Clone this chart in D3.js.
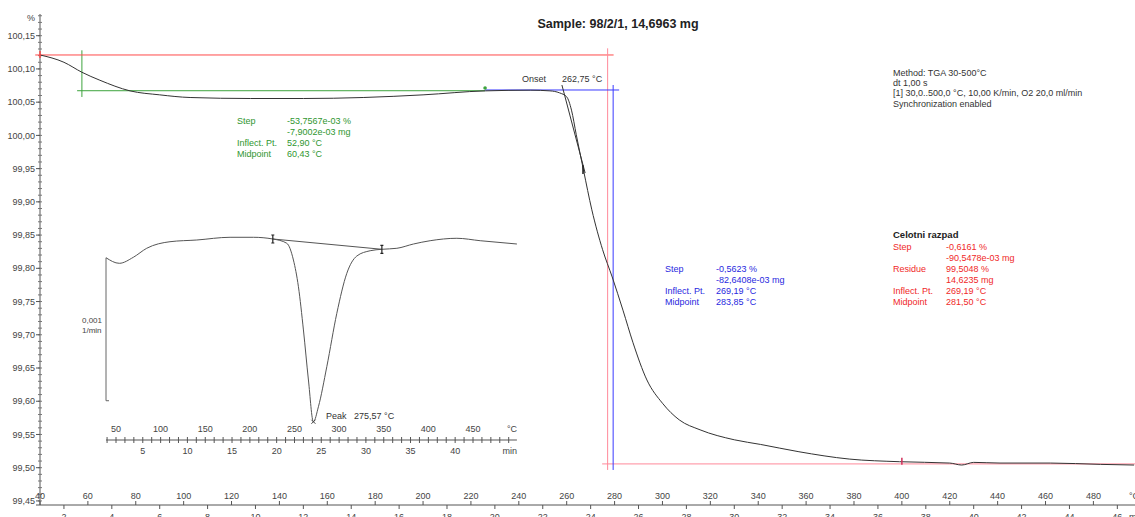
<!DOCTYPE html>
<html lang="en">
<head>
<meta charset="UTF-8">
<title>TGA 98/2/1</title>
<script src="https://cdn.jsdelivr.net/npm/d3@7/dist/d3.min.js"></script>
<style>
    body { margin: 0; background: #fff; }
    svg { display: block; font-family: "Liberation Sans", Arial, sans-serif; }
    .lbl { font-size: 9px; fill: #444; }
    .note { font-size: 9px; }
</style>
</head>
<body>
<script>
    // glavna TGA krivulja: temperatura (°C) / masa (%)
    var tgaTemp = [40, 50, 57.5, 65, 77.6, 90, 102.7, 128, 150, 175, 200, 226, 245, 253, 257, 260, 262, 264, 267, 270.5, 275, 279, 283.5, 287.7, 293.5, 300, 307, 315.7, 330, 341, 357, 378, 399, 420, 425, 430, 441, 462, 483, 497];
    var tgaMass = [100.121, 100.110, 100.095, 100.083, 100.067, 100.061, 100.057, 100.0555, 100.0555, 100.057, 100.061, 100.067, 100.068, 100.067, 100.064, 100.058, 100.038, 100.001, 99.948, 99.888, 99.828, 99.787, 99.737, 99.688, 99.632, 99.597, 99.572, 99.557, 99.542, 99.535, 99.524, 99.513, 99.509, 99.507, 99.504, 99.508, 99.507, 99.507, 99.505, 99.504];

    // DTG (vstavljen graf): temperatura (°C) / hitrost (x 0,001 1/min)
    var dtgTemp = [38.8, 53.7, 69.4, 84.4, 110.5, 140.5, 177.8, 203.9, 225.7, 241.4, 248.8, 254.4, 260.0, 265.6, 271.2, 276.8, 286.2, 297.4, 308.6, 319.8, 334.8, 347.9, 364.7, 383.3, 402.0, 431.9, 458.1, 499.2];
    var dtgRate = [-0.124, -0.163, -0.121, -0.058, -0.012, 0, 0.019, 0.019, 0.007, -0.023, -0.140, -0.327, -0.629, -0.979, -1.271, -1.166, -0.886, -0.513, -0.233, -0.112, -0.075, -0.065, -0.058, -0.028, -0.005, 0.012, -0.005, -0.028];

    var yMajor = [99.45, 99.50, 99.55, 99.60, 99.65, 99.70, 99.75, 99.80, 99.85, 99.90, 99.95, 100.00, 100.05, 100.10, 100.15];
    var xLabelsC = [40, 60, 80, 100, 120, 140, 160, 180, 200, 220, 240, 260, 280, 300, 320, 340, 360, 380, 400, 420, 440, 460, 480];
    var xLabelsMin = [2, 4, 6, 8, 10, 12, 14, 16, 18, 20, 22, 24, 26, 28, 30, 32, 34, 36, 38, 40, 42, 44, 46];
    var insetLabelsC = [50, 100, 150, 200, 250, 300, 350, 400, 450];
    var insetLabelsMin = [5, 10, 15, 20, 25, 30, 35, 40];

    // vrednosti za vrednotenje (temperatura, %)
    var greenStep = { level: 100.0672, from: 55.5, to: 225.9, vx: 57.5, vTop: 100.128, vBot: 100.0578 };
    var blueStep = { level: 100.0683, from: 225.9, to: 281.9, vx: 279.4, vTop: 100.0758, vBot: 99.4966 };
    var redStep = { top: 100.121, topFrom: 38, topTo: 279.6, vx: 277.1, vTop: 100.131, vBot: 99.4966, bottom: 99.5057, botFrom: 274.8, botTo: 500 };
    var onsetTangent = [[258, 100.0758], [267.7, 99.9434]];
    var dtgBase = [[225.7, 0.007], [347.9, -0.065]];
    var dtgPeak = [271.2, -1.271];

    var greenText = [["Step", "-53,7567e-03 %"], ["", "-7,9002e-03 mg"], ["Inflect. Pt.", "52,90 °C"], ["Midpoint", "60,43 °C"]];
    var blueText = [["Step", "-0,5623 %"], ["", "-82,6408e-03 mg"], ["Inflect. Pt.", "269,19 °C"], ["Midpoint", "283,85 °C"]];
    var redText = [["Step", "-0,6161 %"], ["", "-90,5478e-03 mg"], ["Residue", "99,5048 %"], ["", "14,6235 mg"], ["Inflect. Pt.", "269,19 °C"], ["Midpoint", "281,50 °C"]];
    var methodText = ["Method: TGA 30-500°C", "dt 1,00 s", "[1] 30,0..500,0 °C, 10,00 K/min,  O2 20,0 ml/min", "Synchronization enabled"];

    var W = 1135, H = 517;
    var RED = "#ff4a4a", PINK = "#ff8a9a", BLUE = "#3a3aff", GREEN = "#3da33d";

    var svg = d3.select("body").append("svg")
        .attr("width", W).attr("height", H);
    svg.append("rect").attr("width", W).attr("height", H).attr("fill", "#fff");

    var x = d3.scaleLinear().domain([40, 480]).range([40, 1093.4]);
    var y = d3.scaleLinear().domain([99.50, 100.15]).range([467.7, 35.7]);
    var comma = function(f) { return function(v) { return d3.format(f)(v).replace(".", ","); }; };

    // y os
    var gy = svg.append("g");
    gy.append("line").attr("x1", 40).attr("x2", 40).attr("y1", 14).attr("y2", 505).attr("stroke", "#555");
    gy.selectAll(".minor").data(d3.range(0, 74).map(function(i) { return 99.45 + i * 0.01; }))
        .enter().append("line")
        .attr("x1", 38).attr("x2", 42)
        .attr("y1", function(d) { return y(d); }).attr("y2", function(d) { return y(d); })
        .attr("stroke", "#777");
    gy.selectAll(".major").data(yMajor).enter().append("line")
        .attr("x1", 36).attr("x2", 40)
        .attr("y1", function(d) { return y(d); }).attr("y2", function(d) { return y(d); })
        .attr("stroke", "#555");
    gy.selectAll("text").data(yMajor).enter().append("text")
        .attr("class", "lbl")
        .attr("x", 35).attr("y", function(d) { return y(d); }).attr("dy", "0.35em")
        .attr("text-anchor", "end")
        .text(comma(".2f"));
    svg.append("text").attr("class", "lbl").attr("x", 35).attr("y", 21).attr("text-anchor", "end").text("%");

    // x os (°C zgoraj, min spodaj)
    var AXY = 505;
    var gx = svg.append("g");
    gx.append("line").attr("x1", 36).attr("x2", W).attr("y1", AXY).attr("y2", AXY).attr("stroke", "#555");
    gx.selectAll("line.t").data(d3.range(40, 500, 10)).enter().append("line")
        .attr("class", "t")
        .attr("x1", function(d) { return x(d); }).attr("x2", function(d) { return x(d); })
        .attr("y1", function(d) { return d % 20 === 0 ? AXY - 4 : AXY; })
        .attr("y2", function(d) { return d % 20 === 0 ? AXY : AXY + 4; })
        .attr("stroke", "#555");
    gx.selectAll("text.c").data(xLabelsC).enter().append("text")
        .attr("class", "lbl").attr("x", function(d) { return x(d); }).attr("y", 499)
        .attr("text-anchor", "middle").text(function(d) { return d; });
    // spodnje oznake (min) so na robu slike odrezane kot v originalu
    gx.selectAll("text.m").data(xLabelsMin).enter().append("text")
        .attr("class", "lbl").attr("x", function(d) { return x(30 + d * 10); }).attr("y", 520)
        .attr("text-anchor", "middle").text(function(d) { return d; });
    gx.append("text").attr("class", "lbl").attr("x", 1129).attr("y", 499).text("°C");
    gx.append("text").attr("class", "lbl").attr("x", 1129).attr("y", 520).text("min");

    // crte vrednotenja
    function seg(g, x1, y1, x2, y2, c) {
        g.append("line").attr("x1", x(x1)).attr("y1", y(y1)).attr("x2", x(x2)).attr("y2", y(y2))
            .attr("stroke", c).attr("stroke-width", 1);
    }
    var ga = svg.append("g");
    seg(ga, greenStep.from, greenStep.level, greenStep.to, greenStep.level, GREEN);
    seg(ga, greenStep.vx, greenStep.vTop, greenStep.vx, greenStep.vBot, GREEN);
    seg(ga, redStep.topFrom, redStep.top, redStep.topTo, redStep.top, RED);
    seg(ga, redStep.vx, redStep.vTop, redStep.vx, redStep.vBot, PINK);
    seg(ga, redStep.botFrom, redStep.bottom, redStep.botTo, redStep.bottom, PINK);
    seg(ga, blueStep.from, blueStep.level, blueStep.to, blueStep.level, BLUE);
    seg(ga, blueStep.vx, blueStep.vTop, blueStep.vx, blueStep.vBot, BLUE);
    seg(ga, onsetTangent[0][0], onsetTangent[0][1], onsetTangent[1][0], onsetTangent[1][1], "#333");

    // TGA krivulja
    var tga = tgaTemp.map(function(t, i) { return [t, tgaMass[i]]; });
    svg.append("path").datum(tga)
        .attr("fill", "none").attr("stroke", "#333").attr("stroke-width", 1)
        .attr("d", d3.line().x(function(d) { return x(d[0]); }).y(function(d) { return y(d[1]); }).curve(d3.curveMonotoneX));

    // oznake na krivulji
    svg.append("circle").attr("cx", x(225.9)).attr("cy", y(100.0683) - 2).attr("r", 1.8).attr("fill", GREEN);
    svg.append("line").attr("x1", x(266.8)).attr("x2", x(266.8)).attr("y1", y(99.955)).attr("y2", y(99.942)).attr("stroke", "#222").attr("stroke-width", 1.5);
    svg.append("line").attr("x1", x(40)).attr("x2", x(40)).attr("y1", y(100.121) - 4).attr("y2", y(100.121) + 3).attr("stroke", RED).attr("stroke-width", 1.5);
    svg.append("line").attr("x1", x(400)).attr("x2", x(400)).attr("y1", y(99.509) - 4).attr("y2", y(99.509) + 3).attr("stroke", "#d0305a").attr("stroke-width", 1.5);

    // vstavljen DTG graf
    var xi = d3.scaleLinear().domain([50, 450]).range([116, 473]);
    var yi = d3.scaleLinear().domain([0, -1]).range([240, 383]);
    var gi = svg.append("g");
    var IY = 440;
    gi.append("line").attr("x1", xi(38.8)).attr("x2", xi(499.2)).attr("y1", IY).attr("y2", IY).attr("stroke", "#555");
    gi.selectAll("line.t").data(d3.range(40, 500, 10)).enter().append("line")
        .attr("class", "t")
        .attr("x1", function(d) { return xi(d); }).attr("x2", function(d) { return xi(d); })
        .attr("y1", IY - 3).attr("y2", IY + 3).attr("stroke", "#555");
    gi.selectAll("text.c").data(insetLabelsC).enter().append("text")
        .attr("class", "lbl").attr("x", function(d) { return xi(d); }).attr("y", 432)
        .attr("text-anchor", "middle").text(function(d) { return d; });
    gi.selectAll("text.m").data(insetLabelsMin).enter().append("text")
        .attr("class", "lbl").attr("x", function(d) { return xi(30 + d * 10); }).attr("y", 454)
        .attr("text-anchor", "middle").text(function(d) { return d; });
    gi.append("text").attr("class", "lbl").attr("x", 517).attr("y", 432).attr("text-anchor", "end").text("°C");
    gi.append("text").attr("class", "lbl").attr("x", 517).attr("y", 454).attr("text-anchor", "end").text("min");

    // merilo 0,001 1/min
    gi.append("path")
        .attr("d", "M" + xi(38.8) + "," + yi(-0.124) + "V" + yi(-1.124) + "h3")
        .attr("fill", "none").attr("stroke", "#666");
    gi.append("text").attr("class", "lbl").attr("x", 82).attr("y", 323).style("font-size", "8px").text("0,001");
    gi.append("text").attr("class", "lbl").attr("x", 82).attr("y", 333).style("font-size", "8px").text("1/min");

    var dtg = dtgTemp.map(function(t, i) { return [t, dtgRate[i]]; });
    gi.append("path").datum(dtg)
        .attr("fill", "none").attr("stroke", "#555").attr("stroke-width", 1)
        .attr("d", d3.line().x(function(d) { return xi(d[0]); }).y(function(d) { return yi(d[1]); }).curve(d3.curveMonotoneX));
    gi.append("line")
        .attr("x1", xi(dtgBase[0][0])).attr("y1", yi(dtgBase[0][1]))
        .attr("x2", xi(dtgBase[1][0])).attr("y2", yi(dtgBase[1][1]))
        .attr("stroke", "#555");
    dtgBase.forEach(function(p) {
        var bx = xi(p[0]), by = yi(p[1]);
        gi.append("path").attr("d", "M" + (bx - 1.5) + "," + (by - 4) + "h3M" + bx + "," + (by - 4) + "v8M" + (bx - 1.5) + "," + (by + 4) + "h3")
            .attr("fill", "none").attr("stroke", "#222").attr("stroke-width", 1.2);
    });
    var px = xi(dtgPeak[0]), py = yi(dtgPeak[1]);
    gi.append("path").attr("d", "M" + (px - 2) + "," + (py - 2) + "l4,4M" + (px + 2) + "," + (py - 2) + "l-4,4")
        .attr("stroke", "#444");
    gi.append("text").attr("class", "note").attr("fill", "#333").attr("x", 326).attr("y", 419).text("Peak");
    gi.append("text").attr("class", "note").attr("fill", "#333").attr("x", 354).attr("y", 419).text("275,57 °C");

    // besedila
    svg.append("text").attr("x", 618).attr("y", 28).attr("text-anchor", "middle")
        .style("font-size", "12.5px").style("font-weight", "bold").attr("fill", "#222")
        .text("Sample: 98/2/1, 14,6963 mg");
    svg.append("text").attr("class", "note").attr("fill", "#333").attr("x", 522).attr("y", 82).text("Onset");
    svg.append("text").attr("class", "note").attr("fill", "#333").attr("x", 562).attr("y", 82).text("262,75 °C");

    svg.selectAll(".method").data(methodText).enter().append("text")
        .attr("class", "note").attr("fill", "#333")
        .attr("x", 893).attr("y", function(d, i) { return 75.5 + i * 10.4; })
        .text(function(d) { return d; });

    function block(rows, x0, x1, y0, dy, color) {
        rows.forEach(function(r, i) {
            svg.append("text").attr("class", "note").attr("fill", color).attr("x", x0).attr("y", y0 + i * dy).text(r[0]);
            svg.append("text").attr("class", "note").attr("fill", color).attr("x", x1).attr("y", y0 + i * dy).text(r[1]);
        });
    }
    block(greenText, 237, 287, 124, 11, "#2f962f");
    block(blueText, 665, 716, 272, 11, "#2828e0");
    svg.append("text").attr("x", 893).attr("y", 237.5)
        .style("font-size", "9.5px").style("font-weight", "bold").attr("fill", "#222").text("Celotni razpad");
    block(redText, 893, 946, 250, 11, "#f02828");
</script>
</body>
</html>
